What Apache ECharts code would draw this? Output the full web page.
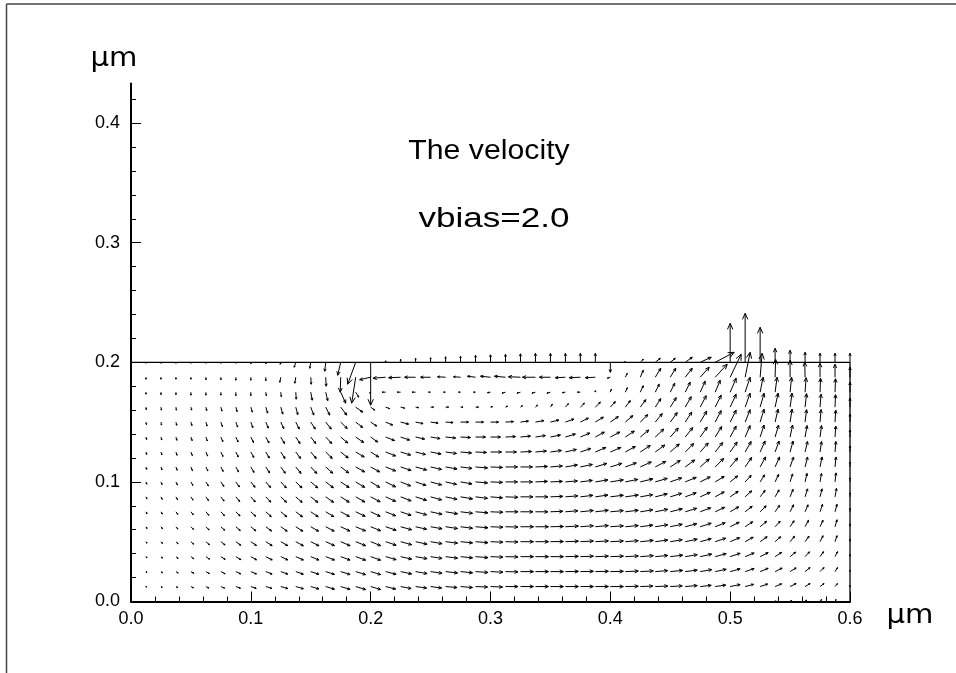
<!DOCTYPE html>
<html><head><meta charset="utf-8">
<script src="https://cdn.jsdelivr.net/npm/echarts@6/dist/echarts.min.js"></script>
<style>html,body{margin:0;padding:0;background:#fff}#c{width:956px;height:673px}</style>
</head><body><div id="c"></div><script>
const X_NODES = [0,0.0125,0.025,0.0375,0.05,0.0625,0.075,0.0875,0.1,0.1125,0.125,0.1375,0.15,0.1625,0.175,0.1875,0.2,0.2125,0.225,0.2375,0.25,0.2625,0.275,0.2875,0.3,0.3125,0.325,0.3375,0.35,0.3625,0.375,0.3875,0.4,0.4125,0.425,0.4375,0.45,0.4625,0.475,0.4875,0.5,0.5125,0.525,0.5375,0.55,0.5625,0.575,0.5875,0.6];
const Y_NODES = [0.2,0.1875,0.175,0.1625,0.15,0.1375,0.125,0.1125,0.1,0.0875,0.075,0.0625,0.05,0.0375,0.025,0.0125,0];
// velocity components (arbitrary units), one row per Y_NODES entry
const U = [
[0,0,0,0,0,0,0,0,0,0,-0.5,-1.5,-1,-1,-3,-8,0,0,0,0,0,0,0,0,0,0,0,0,0,0,0,0,0,-1,3,5,5,7,11,19,0,0,0,0,0,0,0,0,0],
[0,0,0,0,0,0,0,0,0,0,-1,-1,0.5,0.5,-0.5,-4,-11,-12.5,-12,-11,-10,-8,-7,-8,-10,-11,-12,-13,-11,-10,-11,-10,-3,2,3,5.5,5.5,7,9,12,11,5,2,0.5,0,-0.3,0,0,0],
[0,0,0,0,0,0,0,0,0,0.5,0.5,0.5,1.5,2,5,3,-1,-3.5,-3.5,-3.5,-2,-2,-2,-2,-3,-3.5,-3.5,-3.5,-3.5,-3,-3,0,1,2,3,4,4.5,5,5,5,6,5,3,2,1.5,1,0.5,0.5,0],
[0,0.3,0.5,0.5,0.7,0.8,1,1.2,1.5,1.8,2,2,3,4,6,7,4,4,4,3,3,3,2.5,3,2,2,2,2,2,3,4,5,5,5,5.5,5.5,6,6,6,6,6,5,4,3,2,1.5,1,0.5,0],
[0,0.5,0.6,0.8,1,1.2,1.5,1.8,2,2.5,3,3.5,4.5,5.5,6.5,7,6,7,8,7.5,7.5,7.5,8,8,8,8,8,8.5,8.5,8.5,8,8,8,7.5,7.5,7,7,6.5,6.5,6,6,5,4,3,2,1.5,1,0.7,0],
[0,0.6,0.8,1,1.2,1.5,2,2.3,2.7,3.2,3.7,4.3,5,6,7,8,7,9,9,9,9.5,10,10,10,10,10,10,10,10,10,9.5,9,9.5,9,8.5,8.5,8,7.5,7,6.5,6,5,4,3.5,2.5,2,1.5,0.8,0],
[0,0.7,0.9,1.1,1.4,1.7,2.1,2.5,3,3.5,4.2,4.8,5.5,6.5,7.5,8.5,8,10,10,10,10.5,11,11,11,11,11,11,11,11,11,10.5,10.5,10.5,10,10,9.5,9,8.5,8,7.5,7,6,5,4,3,2.5,1.5,0.9,0],
[0,0.7,1,1.2,1.5,1.9,2.3,2.7,3.2,3.8,4.5,5.2,6,7,8,9,9,10,10.5,11,11,11.5,11.5,12,12,12,12,12,12,12,12,11.5,11.5,11,11,10.5,10,9.5,9,8.5,7.5,6.5,5.5,4.5,3.5,2.5,2,1,0],
[0,0.8,1.1,1.5,2,2.5,3,3.5,4.2,4.8,5.5,6.2,7,7.7,8.4,9,9,10,10,10.5,11,11,11.5,12,12,12,12,12,12,12,12,12.5,13,12.5,12.5,12,11.5,11,10,9,7.5,6,4.5,3.5,2.5,2,1.5,1,0],
[0,0.9,1.2,1.6,2.1,2.6,3.2,3.8,4.4,5,5.7,6.4,7.1,7.8,8.5,9.2,9.5,10,10.5,11,11,11.5,12,12,12,12.5,12.5,12.5,12.5,12.5,12.5,12.5,13,13,12.5,12,11.5,11,10,9,8,6.5,5,4,3,2.5,2,1.5,0],
[0,1,1.4,1.9,2.4,3,3.6,4.2,4.8,5.4,6,6.7,7.4,8.1,8.8,9.5,9.5,10,10.5,11,11.5,12,12,12.5,12.5,12.5,12.5,12.5,12.5,12.5,13,13,13,13,12.5,12.5,12,11.5,10.5,9.5,8.5,7,6,4.5,3.5,3,2.5,2,0],
[0,1,1.5,2,2.6,3.2,3.8,4.4,5,5.7,6.4,7.1,7.8,8.5,9.2,9.8,10,10.5,11,11,11.5,12,12,12.5,12.5,12.5,13,13,13,13,13,13,13,13,12.5,12.5,12,11.5,11,10,9,7.5,6.5,5,4,3.5,3,2,0],
[0,1,1.6,2.2,2.8,3.5,4.2,4.9,5.6,6.3,7,7.6,8.2,8.8,9.4,10,10,10.5,11,11.5,11.5,12,12,12.5,12.5,12.5,13,13,13,13,13,13,13,13,13,12.5,12,12,11,10.5,9.5,8,7,5.5,4.5,4,3,2,0],
[0,1,1.6,2.2,2.9,3.6,4.3,5,5.7,6.4,7,7.6,8.2,8.8,9.4,10,10,10.5,11,11.5,11.5,12,12,12.5,12.5,12.5,13,13,13,13,13,13,13,13,13,12.5,12.5,12,11.5,11,10,9,8,6.5,5.5,4.5,3.5,2.5,0],
[0,1,1.6,2.2,2.9,3.5,4.2,4.9,5.6,6.3,7,7.6,8.2,8.8,9.4,10,10,10.5,11,11.5,11.5,12,12,12.5,12.5,12.5,13,13,13,13,13,13,13,13,13,12.5,12.5,12,11.5,11,10,9,8,7,6,5,4,2.5,0],
[0,0.7,1.3,1.9,2.5,3,3.8,4.6,5.4,6.2,7,7.6,8.2,8.8,9.4,10,10,10,10.5,11,11,11.5,12,12,12,12.5,13,13,13,13,13,13,13,13,12.5,12.5,12,12,11,10.5,10,8.5,7.5,6.5,6,5,4,2.5,0],
[0,0,0,0,0,0,0,0,0,0,0,0,0,0,0,0,0,0,0,0,0,0,0,0,0,0,0,0,0,0,0,0,0,0,0,0,0,0,0,0,0,0,0,1,1.5,1.5,1.5,1,0]
];
const V = [
[0,-1,-1,-1,-1,-1,-1,-1,-1.5,-1.5,-2,-5,-6,-9,-13,-22,-43,1.5,3,4,4.5,5.5,6,7,7.5,8,8.5,9,9,9,9,9,-10,0.5,3,4,4,5,5,10,39,49,35,14,12,10,9,9,9],
[0,-2,-2,-2,-2,-2.5,-2.5,-3,-3,-3.5,-5,-6,-7,-9,-15,-26,-2.5,-1,-0.5,0,0,0.5,0.5,1,1,1,0.5,0,0,-0.5,-0.5,-0.5,-1,4,7,9,9,9,10,13,23,25,24,18,17,15,14,13,10],
[0,-2,-2.5,-2.5,-3,-3,-3,-3.5,-3.5,-3.5,-4.5,-7,-8,-8.5,-11,-5,-1,0,0,0,0,0,0,0,-0.5,-1,-1,-1,-1,-0.5,0,1.5,3,4.5,6.5,8,9,10,11,12,14,15,15,15,15,14.5,14,13.5,10],
[0,-2.5,-3,-3,-3,-3.5,-4,-4.5,-5,-6,-7,-7.5,-8,-8,-8,-5,-3,-1.5,-1,-0.5,0,0,0,0,0.5,1,1.5,2,3,3.5,4,5,5.5,6.5,7.5,8.5,9.5,10.5,11.5,12,13,14,14,14,14,13.5,13,12.5,9],
[0,-2.5,-3,-3.2,-3.5,-4,-4.5,-5,-5.5,-6,-6.5,-7,-7,-7,-6.5,-5.5,-4,-3,-2,-1.5,-1,-0.5,0,0,0,0.5,1,1.5,2,3,4,5,5.5,6.5,7.5,8.5,9.5,10,11,11.5,12,12.5,13,13,13,12.5,12.5,12,8],
[0,-2.5,-3,-3.3,-3.6,-4,-4.5,-5,-5.5,-6,-6.5,-6.5,-6.5,-6.5,-6,-5.5,-5,-3.5,-3,-2,-1.5,-1,-0.5,0,0,0.5,1,1.5,2,3,4,5,5,6,7,8,9,9.5,10,10.5,11,11.5,12,12,12,11.5,11.5,11,7],
[0,-2.5,-3,-3.3,-3.6,-4,-4.5,-5,-5.5,-6,-6.5,-6.5,-6.5,-6.5,-6,-5,-5,-4,-3,-2.5,-2,-1.5,-1,-0.5,0,0,0.5,1,1.5,2.5,3.5,4.5,4.5,5.5,6.5,7,8,8.5,9,9.5,10,10.5,11,11,11,10.5,10.5,10.5,6],
[0,-2.4,-3,-3.3,-3.6,-4,-4.5,-5,-5.5,-6,-6.3,-6.5,-6.5,-6.3,-6,-5,-5,-4,-3.5,-3,-2.5,-2,-1.5,-1,-0.5,0,0,0.5,1,2,2.5,3.5,3.5,4,5,5.5,6.5,7,8,8.5,9,9.5,10,10,10,10,10,10,5],
[0,-2.3,-2.7,-3.1,-3.5,-4,-4.5,-5,-5.4,-5.7,-6,-6,-6,-5.9,-5.7,-5.5,-5.5,-5,-4,-3.5,-3,-2.5,-2,-1,-0.5,0,0,0.5,0.5,1,1.5,2,2,2.5,3,3.5,4,4.5,5,5.5,6,6.5,7,7.5,8,8.5,8.5,9,4],
[0,-2.1,-2.5,-2.9,-3.3,-3.8,-4.2,-4.6,-5,-5.3,-5.5,-5.6,-5.6,-5.5,-5.4,-5.2,-5,-4.5,-4,-3.5,-3,-2.5,-2,-1.5,-1,-0.5,0,0,0.5,1,1.5,1.8,1.6,1.8,2.2,3,3.5,4,4.5,5,5.5,6,6.5,7,7.5,8,8,8.5,4],
[0,-2,-2.3,-2.6,-3,-3.5,-3.9,-4.2,-4.5,-4.8,-5,-5,-5,-4.9,-4.7,-4.5,-4.5,-4,-3.5,-3,-2.5,-2,-1.5,-1,-0.5,0,0,0,0.5,1,1.3,1.5,1.2,1.5,2,2.5,3,3.5,4,4.5,5,5.5,6,6.5,7,7,7.5,7.5,3.5],
[0,-1.8,-2,-2.3,-2.7,-3.2,-3.5,-3.8,-4.1,-4.3,-4.5,-4.5,-4.5,-4.4,-4.3,-4.2,-4,-3.5,-3,-2.5,-2,-1.8,-1.5,-1,-0.5,-0.3,0,0,0.3,0.7,1,1.2,0.9,1.2,1.6,2,2.5,3,3.5,4,4.5,5,5.5,5.5,6,6.5,6.5,7,3],
[0,-1.5,-1.8,-2.1,-2.5,-3,-3.3,-3.6,-3.8,-4,-4,-4.1,-4.1,-4,-4,-4,-4,-3.5,-3,-2.5,-2,-1.5,-1.2,-1,-0.5,-0.3,0,0,0.2,0.5,0.7,0.8,0.7,1,1.3,1.7,2,2.5,3,3.5,4,4.5,5,5,5.5,5.5,6,6,2.5],
[0,-1.2,-1.5,-1.8,-2.1,-2.5,-2.7,-3,-3.2,-3.3,-3.3,-3.4,-3.4,-3.4,-3.4,-3.5,-3.5,-3,-2.5,-2,-1.8,-1.5,-1.2,-1,-0.5,-0.3,0,0,0,0.3,0.5,0.5,0.5,0.7,1,1.2,1.5,2,2.5,3,3.3,3.7,4,4.3,4.5,4.8,5,5,2],
[0,-0.9,-1.2,-1.4,-1.7,-2,-2.2,-2.3,-2.4,-2.5,-2.5,-2.6,-2.7,-2.8,-2.9,-3,-3,-2.7,-2.3,-2,-1.7,-1.4,-1.2,-0.9,-0.6,-0.3,0,0,0,0.2,0.3,0.3,0.3,0.5,0.7,1,1.2,1.5,2,2.3,2.7,3,3.3,3.5,3.7,4,4,4,1.5],
[0,-0.5,-0.8,-1,-1.3,-1.5,-1.6,-1.7,-1.8,-1.9,-2,-2.2,-2.4,-2.6,-2.8,-3,-3,-2.5,-2,-1.5,-1.5,-1,-1,-0.5,-0.5,0,0,0,0,0,0,0,0,0.3,0.5,0.5,0.7,1,1.2,1.5,2,2.2,2.5,2.7,3,3,3,3,1],
[0,0,0,0,0,0,0,0,0,0,0,0,0,0,0,0,0,0,0,0,0,0,0,0,0,0,0,0,0,0,0,0,0,0,0,0,0,0,0,0,0,0,0,0.5,1,1.5,2,2,0]
];
const X_MAJOR = [0,0.1,0.2,0.3,0.4,0.5,0.6];
const X_MINOR = [0.02,0.04,0.06,0.08,0.12,0.14,0.16,0.18,0.22,0.24,0.26,0.28,0.32,0.34,0.36,0.38,0.42,0.44,0.46,0.48,0.52,0.54,0.56,0.58];
const Y_MAJOR = [0,0.1,0.2,0.3,0.4];
const Y_MINOR = [0.02,0.04,0.06,0.08,0.12,0.14,0.16,0.18,0.22,0.24,0.26,0.28,0.32,0.34,0.36,0.38,0.42];
const BOUNDARY = [[0,0.2],[0.6,0.2],[0.6,0]];
const TITLE = 'The velocity';
const SUBTITLE = 'vbias=2.0';
const UNIT = 'µm';
const X_MAX = 0.6, Y_MAX = 0.433;
const VEL_SCALE = 0.6 / 719; // µm of arrow length per velocity unit

const data = [];
for (let j = 0; j < Y_NODES.length; j++)
  for (let i = 0; i < X_NODES.length; i++)
    data.push([X_NODES[i], Y_NODES[j], U[j][i], V[j][i]]);

const FONT = 'Liberation Sans, Arial, sans-serif';
const chart = echarts.init(document.getElementById('c'), null, {renderer: 'canvas'});

function arrow(params, api) {
  const x = api.value(0), y = api.value(1), u = api.value(2), v = api.value(3);
  if (u === 0 && v === 0) return null;
  const p0 = api.coord([x, y]);
  const p1 = api.coord([x + u * VEL_SCALE, y + v * VEL_SCALE]);
  const dx = p1[0] - p0[0], dy = p1[1] - p0[1];
  const L = Math.hypot(dx, dy);
  if (L < 0.3) return null;
  const ux = dx / L, uy = dy / L;
  const h = Math.min(6, Math.max(1.2, 0.28 * L));
  const w = h * 0.45;
  const bx = p1[0] - ux * h, by = p1[1] - uy * h;
  return {
    type: 'group',
    children: [
      {type: 'line', shape: {x1: p0[0], y1: p0[1], x2: p1[0], y2: p1[1]}, style: {stroke: '#000', lineWidth: 1}},
      {type: 'polyline', shape: {points: [[bx - uy * w, by + ux * w], [p1[0], p1[1]], [bx + uy * w, by - ux * w]]}, style: {stroke: '#000', fill: null, lineWidth: 1}}
    ]
  };
}

const axisCommon = {type: 'value', splitLine: {show: false}, minorTick: {show: false}};
const option = {
  backgroundColor: '#fff',
  animation: false,
  grid: {left: 131, right: 106, top: 83.6, bottom: 71.5, containLabel: false},
  xAxis: [
    Object.assign({}, axisCommon, {min: 0, max: X_MAX, position: 'bottom',
      axisLine: {show: true, lineStyle: {color: '#000', width: 2}},
      axisTick: {show: true, inside: true, length: 10, customValues: X_MAJOR, lineStyle: {color: '#000', width: 1}},
      axisLabel: {show: true, customValues: X_MAJOR, margin: 9, formatter: v => v.toFixed(1), color: '#000', fontSize: 18, fontFamily: FONT}}),
    Object.assign({}, axisCommon, {min: 0, max: X_MAX, position: 'bottom', offset: 0,
      axisLine: {show: false},
      axisTick: {show: true, inside: true, length: 5, customValues: X_MINOR, lineStyle: {color: '#000', width: 1}},
      axisLabel: {show: false}})
  ],
  yAxis: [
    Object.assign({}, axisCommon, {min: 0, max: Y_MAX, position: 'left',
      axisLine: {show: true, lineStyle: {color: '#000', width: 2}},
      axisTick: {show: true, inside: true, length: 10, customValues: Y_MAJOR, lineStyle: {color: '#000', width: 1}},
      axisLabel: {show: true, customValues: Y_MAJOR, margin: 11, formatter: v => v.toFixed(1), color: '#000', fontSize: 18, fontFamily: FONT}}),
    Object.assign({}, axisCommon, {min: 0, max: Y_MAX, position: 'left', offset: 0,
      axisLine: {show: false},
      axisTick: {show: true, inside: true, length: 5, customValues: Y_MINOR, lineStyle: {color: '#000', width: 1}},
      axisLabel: {show: false}})
  ],
  series: [
    {type: 'line', data: BOUNDARY, xAxisIndex: 0, yAxisIndex: 0, symbol: 'none', silent: true,
      lineStyle: {color: '#000', width: 1.3}},
    {type: 'custom', xAxisIndex: 0, yAxisIndex: 0, data: data, renderItem: arrow, clip: false, silent: true}
  ],
  graphic: [
    {type: 'line', shape: {x1: 6.5, y1: 4, x2: 956, y2: 4}, style: {stroke: '#444', lineWidth: 1.5}},
    {type: 'line', shape: {x1: 6.5, y1: 4, x2: 6.5, y2: 673}, style: {stroke: '#444', lineWidth: 1.5}},
    {type: 'text', x: 114, y: 59.5, scaleX: 1.12, style: {text: UNIT, align: 'center', verticalAlign: 'middle', font: '26px DejaVu Sans', fill: '#000'}},
    {type: 'text', x: 910, y: 616.5, scaleX: 1.12, style: {text: UNIT, align: 'center', verticalAlign: 'middle', font: '26px DejaVu Sans', fill: '#000'}},
    {type: 'text', x: 489, y: 152, scaleX: 1.12, style: {text: TITLE, align: 'center', verticalAlign: 'middle', font: '27px ' + FONT, fill: '#000'}},
    {type: 'text', x: 494, y: 220, scaleX: 1.3, style: {text: SUBTITLE, align: 'center', verticalAlign: 'middle', font: '27px ' + FONT, fill: '#000'}}
  ]
};
chart.setOption(option);
</script></body></html>
